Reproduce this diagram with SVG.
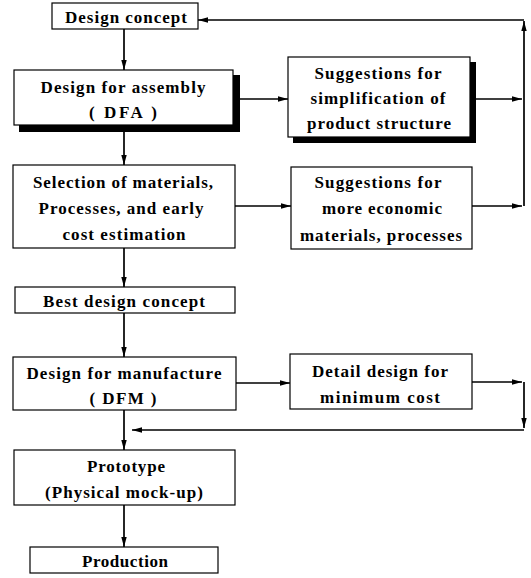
<svg xmlns="http://www.w3.org/2000/svg" width="531" height="578" viewBox="0 0 531 578">
<defs>
<marker id="ah" markerWidth="10" markerHeight="7" refX="10" refY="3.5" orient="auto" markerUnits="userSpaceOnUse">
<path d="M0,0.8 L10,3.5 L0,6.2 z" fill="#000"/>
</marker>
<style>
.box{fill:#fff;stroke:#000;stroke-width:1.2}
.sh{fill:#000}
.t{font-family:"Liberation Serif","Times New Roman",serif;font-weight:bold;font-size:17px;fill:#000;text-anchor:middle}
.c{fill:none;stroke:#000;stroke-width:1.7;marker-end:url(#ah)}
</style>
</defs>
<rect width="531" height="578" fill="#fff"/>

<g id="connectors">
<path class="c" d="M124,29 V70"/>
<path class="c" d="M124,132 V165"/>
<path class="c" d="M124,248 V287"/>
<path class="c" d="M124,313 V357"/>
<path class="c" d="M124,410 V450"/>
<path class="c" d="M124,505 V547"/>
<path class="c" d="M240,99 H288"/>
<path class="c" d="M235,206 H291"/>
<path class="c" d="M236,383 H290"/>
<path class="c" d="M476,99 H522"/>
<path class="c" d="M472,206 H522"/>
<path class="c" d="M524,206 V21"/>
<path class="c" d="M524,20 H198"/>
<path class="c" d="M472,382 H522"/>
<path class="c" d="M524,382 V428"/>
<path class="c" d="M524,430 H132"/>
</g>

<g id="design-concept">
<rect class="box" x="52" y="3" width="146" height="26"/>
<text class="t" x="126" y="23" textLength="122" lengthAdjust="spacing">Design concept</text>
</g>

<g id="dfa">
<path class="sh" d="M233,75 H240 V132 H19 V125 H233 z"/>
<rect class="box" x="14" y="70" width="219" height="55"/>
<text class="t" x="123" y="93" textLength="165" lengthAdjust="spacing">Design for assembly</text>
<text class="t" x="123" y="118" textLength="68" lengthAdjust="spacing">( DFA )</text>
</g>

<g id="simplification">
<path class="sh" d="M470,62 H476 V143 H293 V137 H470 z"/>
<rect class="box" x="288" y="57" width="182" height="80"/>
<text class="t" x="378" y="79" textLength="127" lengthAdjust="spacing">Suggestions for</text>
<text class="t" x="378" y="104" textLength="135" lengthAdjust="spacing">simplification of</text>
<text class="t" x="379" y="129" textLength="144" lengthAdjust="spacing">product structure</text>
</g>

<g id="selection">
<rect class="box" x="13" y="165" width="222" height="83"/>
<text class="t" x="123" y="188" textLength="180" lengthAdjust="spacing">Selection of materials,</text>
<text class="t" x="121" y="214" textLength="165" lengthAdjust="spacing">Processes, and early</text>
<text class="t" x="124" y="240" textLength="123" lengthAdjust="spacing">cost estimation</text>
</g>

<g id="economic">
<rect class="box" x="291" y="167" width="181" height="82"/>
<text class="t" x="378" y="188" textLength="127" lengthAdjust="spacing">Suggestions for</text>
<text class="t" x="382" y="214" textLength="120" lengthAdjust="spacing">more economic</text>
<text class="t" x="381" y="241" textLength="162" lengthAdjust="spacing">materials, processes</text>
</g>

<g id="best-design">
<rect class="box" x="15" y="287" width="220" height="26"/>
<text class="t" x="124" y="307" textLength="162" lengthAdjust="spacing">Best design concept</text>
</g>

<g id="dfm">
<rect class="box" x="13" y="357" width="223" height="53"/>
<text class="t" x="124" y="379" textLength="195" lengthAdjust="spacing">Design for manufacture</text>
<text class="t" x="123" y="404" textLength="67" lengthAdjust="spacing">( DFM )</text>
</g>

<g id="detail">
<rect class="box" x="290" y="354" width="182" height="55"/>
<text class="t" x="380" y="377" textLength="136" lengthAdjust="spacing">Detail design for</text>
<text class="t" x="380" y="403" textLength="120" lengthAdjust="spacing">minimum cost</text>
</g>

<g id="prototype">
<rect class="box" x="14" y="450" width="221" height="55"/>
<text class="t" x="126" y="472" textLength="78" lengthAdjust="spacing">Prototype</text>
<text class="t" x="124" y="498" textLength="158" lengthAdjust="spacing">(Physical mock-up)</text>
</g>

<g id="production">
<rect class="box" x="30" y="547" width="188" height="26"/>
<text class="t" x="125" y="567" textLength="86" lengthAdjust="spacing">Production</text>
</g>
</svg>
